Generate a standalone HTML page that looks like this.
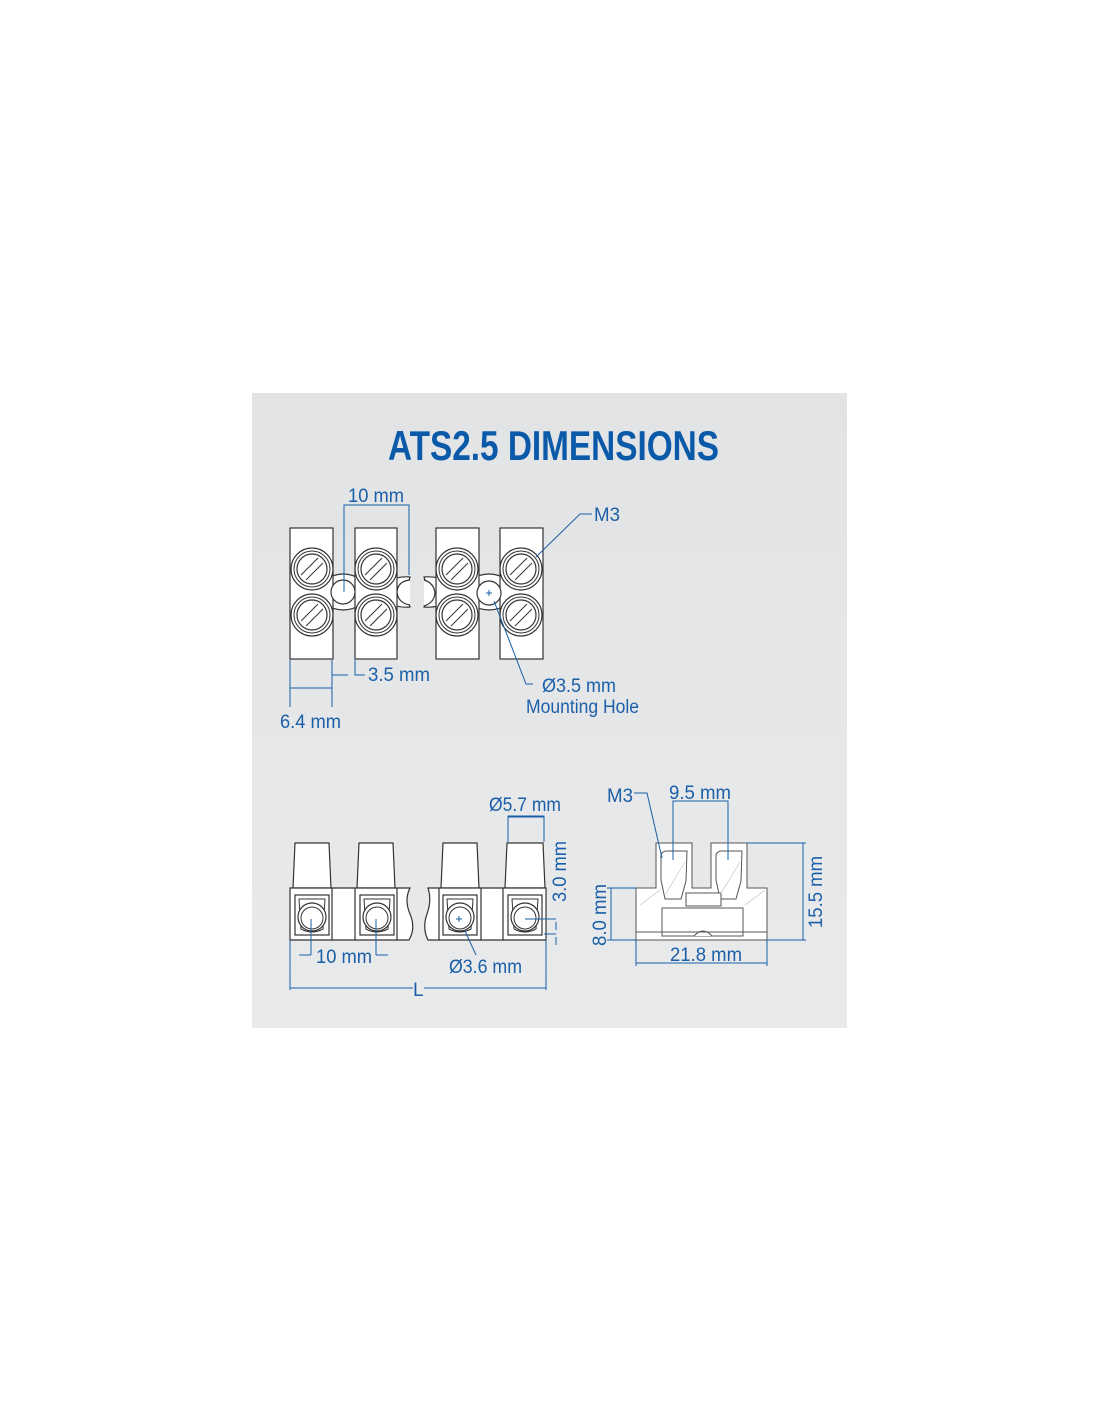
<!DOCTYPE html>
<html><head><meta charset="utf-8"><style>
html,body{margin:0;padding:0;background:#fff;}
svg{display:block}
text{font-family:"Liberation Sans",sans-serif;fill:#1a5fa8;}
</style></head><body>
<svg width="1100" height="1422" viewBox="0 0 1100 1422" xmlns="http://www.w3.org/2000/svg">
<defs>
<linearGradient id="bg" x1="0" y1="0" x2="0" y2="1"><stop offset="0" stop-color="#e1e3e5"/><stop offset="1" stop-color="#e9eaec"/></linearGradient>
<g id="scr">
<circle r="21" fill="#fff" stroke="#333" stroke-width="1.2"/>
<circle r="18" fill="none" stroke="#333" stroke-width="1"/>
<circle r="15" fill="#fff" stroke="#333" stroke-width="1.2"/>
<line x1="-11" y1="6" x2="6" y2="-11" stroke="#333" stroke-width="1"/>
<line x1="-6" y1="11" x2="11" y2="-6" stroke="#333" stroke-width="1"/>
</g>
<g id="fs">
<rect x="0" y="0" width="34" height="40" fill="#fff" stroke="#333" stroke-width="1.2"/>
<path d="M4 4 H30 L28 34 Q17 40 6 34 Z" fill="#fff" stroke="#333" stroke-width="1"/>
<circle cx="17" cy="22" r="14" fill="#fff" stroke="#333" stroke-width="1.2"/>
<circle cx="17" cy="23" r="11" fill="#fff" stroke="#333" stroke-width="1"/>
</g>
</defs>
<rect x="252" y="393" width="595" height="635" fill="url(#bg)"/>
<text x="388" y="460" font-size="42" font-weight="bold" textLength="331" lengthAdjust="spacingAndGlyphs" style="fill:#0b5aa9">ATS2.5 DIMENSIONS</text>

<!-- TOP VIEW -->
<g stroke="#333" stroke-width="1.2" fill="#fff">
<path d="M325 580 Q343 568 362 580 L362 604 Q343 616 325 604 Z"/>
<path d="M390 580 Q400 576 410 577 Q405 592 410 607 Q400 608 390 604 Z"/>
<path d="M424 577 Q434 576 446 580 L446 604 Q434 608 424 607 Q429 592 424 577 Z"/>
<path d="M470 580 Q489 568 508 580 L508 604 Q489 616 470 604 Z"/>
<rect x="290" y="528" width="43" height="131"/>
<rect x="355" y="528" width="42" height="131"/>
<rect x="436" y="528" width="43" height="131"/>
<rect x="500" y="528" width="43" height="131"/>
<circle cx="343" cy="592" r="12"/>
<circle cx="489" cy="593" r="12"/>
<path d="M410 580 Q398 581 397 592 Q398 603 410 605" fill="#fff"/>
<path d="M424 580 Q434 583 435 593 Q434 603 424 606" fill="#fff"/>
</g>
<g>
<use href="#scr" x="312" y="569"/><use href="#scr" x="312" y="615"/>
<use href="#scr" x="376" y="569"/><use href="#scr" x="376" y="615"/>
<use href="#scr" x="457" y="569"/><use href="#scr" x="457" y="615"/>
<use href="#scr" x="521" y="569"/><use href="#scr" x="521" y="615"/>
</g>
<g stroke="#1a5fa8" stroke-width="1" fill="none">
<path d="M344 592 V505 H409 V575"/>
<path d="M290 660 V707 M332 660 V707 M290 688 H332"/>
<path d="M332 675 H348 M355 660 V675 H365"/>
<path d="M536 557 L580 514 H592"/>
<path d="M494 601 L526 684 H533"/>
<path d="M486 593 H492 M489 590 V596"/>
</g>
<text x="348" y="502" font-size="19" textLength="56" lengthAdjust="spacingAndGlyphs">10 mm</text>
<text x="594" y="521" font-size="19" textLength="26" lengthAdjust="spacingAndGlyphs">M3</text>
<text x="368" y="681" font-size="19" textLength="62" lengthAdjust="spacingAndGlyphs">3.5 mm</text>
<text x="280" y="728" font-size="19" textLength="61" lengthAdjust="spacingAndGlyphs">6.4 mm</text>
<text x="542" y="692" font-size="19" textLength="74" lengthAdjust="spacingAndGlyphs">Ø3.5 mm</text>
<text x="526" y="713" font-size="19" textLength="113" lengthAdjust="spacingAndGlyphs">Mounting Hole</text>

<!-- FRONT VIEW -->
<g stroke="#333" stroke-width="1.2" fill="#fff">
<path d="M293 888 L295 843 H329 L331 888 Z"/>
<path d="M357 888 L359 843 H393 L395 888 Z"/>
<path d="M441 888 L443 843 H477 L479 888 Z"/>
<path d="M505 888 L507 843 H543 L545 888 Z"/>
<path d="M290 888 H410 Q404 900 410 914 Q416 928 409 940 H290 Z"/>
<path d="M428 888 H546 V940 H428 Q422 928 427 914 Q432 900 428 888 Z"/>
<line x1="332" y1="888" x2="332" y2="940"/>
<line x1="355" y1="888" x2="355" y2="940"/>
<line x1="397" y1="888" x2="397" y2="940"/>
<line x1="439" y1="888" x2="439" y2="940"/>
<line x1="481" y1="888" x2="481" y2="940"/>
<line x1="503" y1="888" x2="503" y2="940"/>
</g>
<use href="#fs" x="295" y="895"/><use href="#fs" x="360" y="895"/>
<use href="#fs" x="443" y="895"/><use href="#fs" x="508" y="895"/>
<g stroke="#1a5fa8" stroke-width="1" fill="none">
<path d="M311 919 V955 M376 919 V955 M299 955 H311 M376 955 H388"/>
<path d="M456 919 H462 M459 916 V922"/>
<path d="M465 931 L476 955"/>
<path d="M290 940 V990 M546 940 V990 M290 988 H413 M424 988 H546"/>
<path d="M508 842 V816 H544 V842 M508 817 H544"/>
<path d="M525 919 H556 M544 934 H556 M556 922 L556 930 M556 937 V945"/>
</g>
<text x="316" y="963" font-size="19" textLength="56" lengthAdjust="spacingAndGlyphs">10 mm</text>
<text x="449" y="973" font-size="19" textLength="73" lengthAdjust="spacingAndGlyphs">Ø3.6 mm</text>
<text x="413" y="996" font-size="19">L</text>
<text x="489" y="811" font-size="19" textLength="72" lengthAdjust="spacingAndGlyphs">Ø5.7 mm</text>
<text x="0" y="0" font-size="19" textLength="61" lengthAdjust="spacingAndGlyphs" transform="translate(566,902) rotate(-90)">3.0 mm</text>

<!-- SIDE VIEW -->
<g stroke="#555" stroke-width="1" fill="#fff">
<path d="M636 888 H656 V843 H692 V888 H711 V843 H747 V888 H767 V940 H636 Z"/>
<rect x="662" y="908" width="81" height="28"/>
<path d="M661 858 Q660 852 666 851 H687 L686 881 L681 899 H665 L661 880 Z"/>
<path d="M716 858 Q715 852 721 851 H742 L741 881 L736 899 H720 L716 880 Z"/>
<rect x="686" y="893" width="35" height="13"/>
<path d="M694 936 Q703 926 712 936"/>
<line x1="636" y1="932" x2="767" y2="932"/>
</g>
<g stroke="#bbb" stroke-width="0.6">
<line x1="665" y1="895" x2="685" y2="862"/><line x1="720" y1="895" x2="740" y2="862"/>
<line x1="640" y1="905" x2="660" y2="890"/><line x1="745" y1="905" x2="765" y2="890"/>
</g>
<g stroke="#1a5fa8" stroke-width="1" fill="none">
<path d="M636 888 H607 M636 940 H607 M611 888 V940"/>
<path d="M747 843 H806 M767 940 H806 M803 843 V940"/>
<path d="M636 940 V966 M767 940 V966 M636 963 H767"/>
<path d="M673 860 V801 H728 V860"/>
<path d="M634 793 H647 L662 858"/>
</g>
<text x="607" y="802" font-size="19" textLength="26" lengthAdjust="spacingAndGlyphs">M3</text>
<text x="669" y="799" font-size="19" textLength="62" lengthAdjust="spacingAndGlyphs">9.5 mm</text>
<text x="670" y="961" font-size="19" textLength="72" lengthAdjust="spacingAndGlyphs">21.8 mm</text>
<text x="0" y="0" font-size="19" textLength="62" lengthAdjust="spacingAndGlyphs" transform="translate(606,946) rotate(-90)">8.0 mm</text>
<text x="0" y="0" font-size="19" textLength="72" lengthAdjust="spacingAndGlyphs" transform="translate(822,928) rotate(-90)">15.5 mm</text>
</svg>
</body></html>
